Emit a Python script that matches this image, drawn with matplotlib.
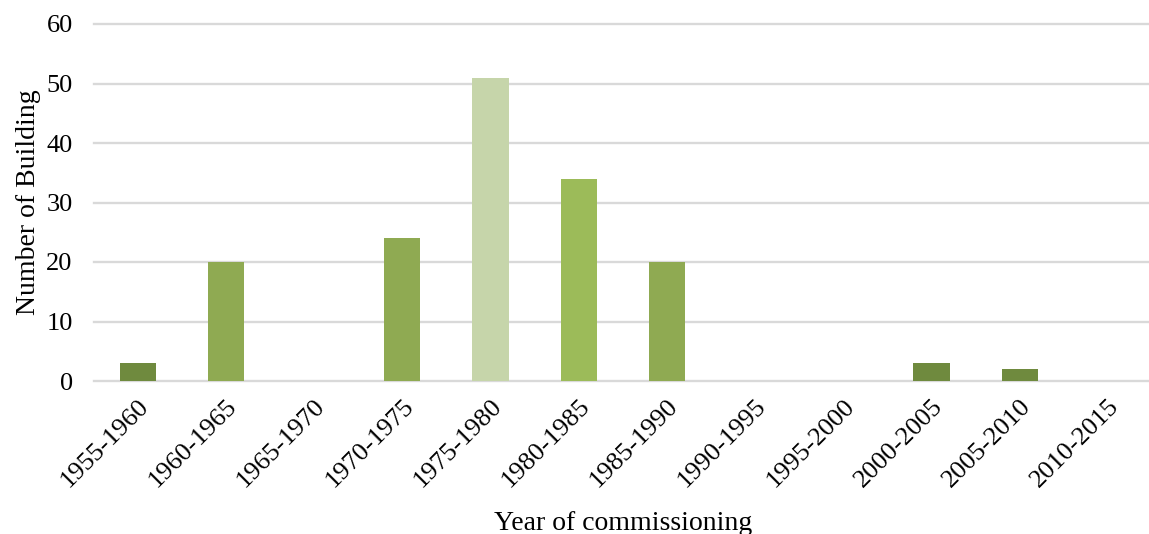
import matplotlib
matplotlib.use("Agg")
import matplotlib.pyplot as plt

categories = ["1955-1960", "1960-1965", "1965-1970", "1970-1975", "1975-1980",
              "1980-1985", "1985-1990", "1990-1995", "1995-2000", "2000-2005",
              "2005-2010", "2010-2015"]
values = [3, 20, 0, 24, 51, 34, 20, 0, 0, 3, 2, 0]
colors = ["#6F8A3E", "#8FAA52", "#8FAA52", "#8FAA52", "#C6D5AA",
          "#9CBB59", "#8FAA52", "#8FAA52", "#8FAA52", "#6F8A3E",
          "#6F8A3E", "#6F8A3E"]
yticks = [0, 10, 20, 30, 40, 50, 60]

plt.rcParams['font.family'] = ['Liberation Serif', 'DejaVu Serif']

fig = plt.figure(figsize=(11.49, 5.34), dpi=100)
ax = fig.add_axes([93.5/1149, 1 - 381/534, (1152 - 93.5)/1149, (381 - 24)/534])

x = list(range(len(categories)))
ax.bar(x, values, width=0.41, color=colors, zorder=3)
ax.set_xlim(-0.5, len(categories) - 0.5)
ax.set_ylim(0, 60)
ax.set_yticks(yticks)
ax.yaxis.grid(True, color="#D9D9D9", linewidth=1.7, zorder=0)
for gl in ax.get_ygridlines():
    gl.set_clip_on(False)
ax.set_axisbelow(True)
for s in ax.spines.values():
    s.set_visible(False)
ax.tick_params(axis='both', length=0, labelsize=19, colors="black")
ax.tick_params(axis='y', pad=15)
ax.tick_params(axis='x', pad=10)
ax.set_xticks(x)
ax.set_xticklabels(categories, rotation=45, ha='right', rotation_mode='anchor')
ax.set_ylabel("Number of Building", fontsize=20, labelpad=4)
ax.set_xlabel("Year of commissioning", fontsize=20, labelpad=14)

fig.savefig("out.png", dpi=100, facecolor="white")
